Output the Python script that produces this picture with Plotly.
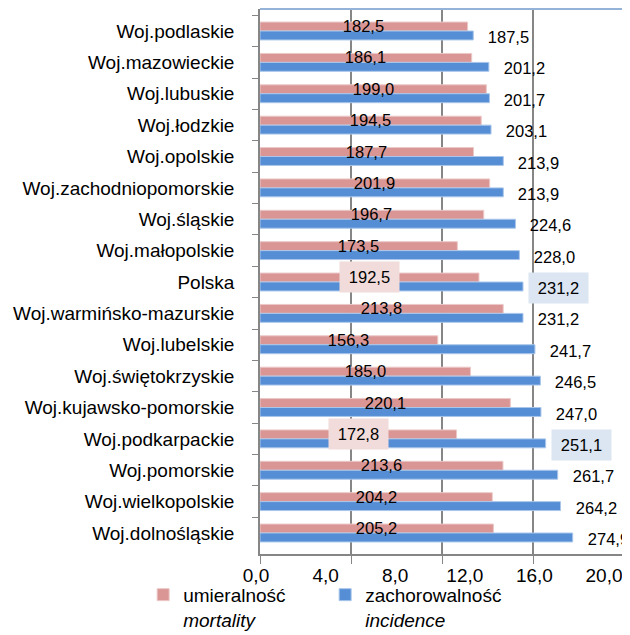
import plotly.graph_objects as go

regions = ["Woj.podlaskie", "Woj.mazowieckie", "Woj.lubuskie", "Woj.łodzkie", "Woj.opolskie",
           "Woj.zachodniopomorskie", "Woj.śląskie", "Woj.małopolskie", "Polska",
           "Woj.warmińsko-mazurskie", "Woj.lubelskie", "Woj.świętokrzyskie",
           "Woj.kujawsko-pomorskie", "Woj.podkarpackie", "Woj.pomorskie",
           "Woj.wielkopolskie", "Woj.dolnośląskie"]
mortality = [182.5, 186.1, 199.0, 194.5, 187.7, 201.9, 196.7, 173.5, 192.5,
             213.8, 156.3, 185.0, 220.1, 172.8, 213.6, 204.2, 205.2]
incidence = [187.5, 201.2, 201.7, 203.1, 213.9, 213.9, 224.6, 228.0, 231.2,
             231.2, 241.7, 246.5, 247.0, 251.1, 261.7, 264.2, 274.9]
tick_labels = [0, 4, 8, 12, 16, 20]
highlighted = ["Polska", "Woj.podkarpackie"]

FONT = "Liberation Sans"
PINK = "#d99694"
BLUE = "#558ed5"
GRID = "#868686"


def pl(v):
    return f"{v:.1f}".replace(".", ",")


fig = go.Figure()
fig.add_trace(go.Bar(y=regions, x=mortality, orientation="h", name="umieralność<br><i>mortality</i>",
                     marker=dict(color=PINK, line=dict(color="#ecc9c8", width=1))))
fig.add_trace(go.Bar(y=regions, x=incidence, orientation="h", name="zachorowalność<br><i>incidence</i>",
                     marker=dict(color=BLUE, line=dict(color="#a9c6ea", width=1))))
# empty trace so the second (label) axis gets drawn
fig.add_trace(go.Scatter(x=[], y=[], xaxis="x2", showlegend=False))

annotations = []
for r, m, inc in zip(regions, mortality, incidence):
    hl = r in highlighted
    annotations.append(dict(x=m / 2, y=r, text=pl(m), showarrow=False, xanchor="center",
                            yshift=5, width=55, height=26, borderpad=2,
                            bgcolor="#f2dcdb" if hl else "rgba(0,0,0,0)",
                            font=dict(family=FONT, size=16.5, color="black")))
    annotations.append(dict(x=inc, y=r, text=pl(inc), showarrow=False, xanchor="left",
                            xshift=5, yshift=-6, width=55, height=26, borderpad=2,
                            bgcolor="#dce6f2" if hl else "rgba(0,0,0,0)",
                            font=dict(family=FONT, size=16.5, color="black")))

# page body has an 8px margin, so the figure is a little smaller than the window
fig.update_layout(
    width=622, height=627,
    margin=dict(l=252, r=6, t=1, b=81, autoexpand=False),
    paper_bgcolor="white", plot_bgcolor="white",
    font=dict(family=FONT, size=19, color="black"),
    separators=", ",
    barmode="group", bargap=0.43, bargroupgap=0,
    xaxis=dict(range=[0, 320], dtick=80, showgrid=True, gridcolor=GRID, gridwidth=1.5,
               showline=True, linecolor=GRID, linewidth=1.5, ticks="outside", ticklen=8,
               tickcolor=GRID, showticklabels=False, zeroline=False, automargin=False),
    xaxis2=dict(overlaying="x", anchor="y", side="bottom", range=[0, 20.92],
                tickvals=tick_labels, tickformat=".1f", showgrid=False, showline=False,
                ticks="", zeroline=False, ticklabelshift=-4, ticklabelstandoff=8,
                tickfont=dict(size=19), automargin=False),
    yaxis=dict(type="category", categoryarray=regions, autorange="reversed",
               showline=True, linecolor=GRID, linewidth=1.5, ticks="outside",
               tickson="boundaries", ticklen=6, tickcolor=GRID, showgrid=False,
               ticklabelstandoff=20, tickfont=dict(size=19), automargin=False),
    legend=dict(orientation="h", x=-0.321, y=-0.04, xanchor="left", yanchor="top",
                valign="top", entrywidth=137, font=dict(size=19),
                bgcolor="rgba(0,0,0,0)", traceorder="normal"),
    annotations=annotations,
    shapes=[
        dict(type="line", xref="paper", yref="paper", x0=0, x1=1.005, y0=1, y1=1,
             line=dict(color="#95b3d7", width=2)),
        dict(type="line", xref="paper", yref="paper", x0=1.005, x1=1.005, y0=-0.018, y1=1,
             line=dict(color="#4f81bd", width=2.5)),
    ],
)

fig.write_html("out.html")
